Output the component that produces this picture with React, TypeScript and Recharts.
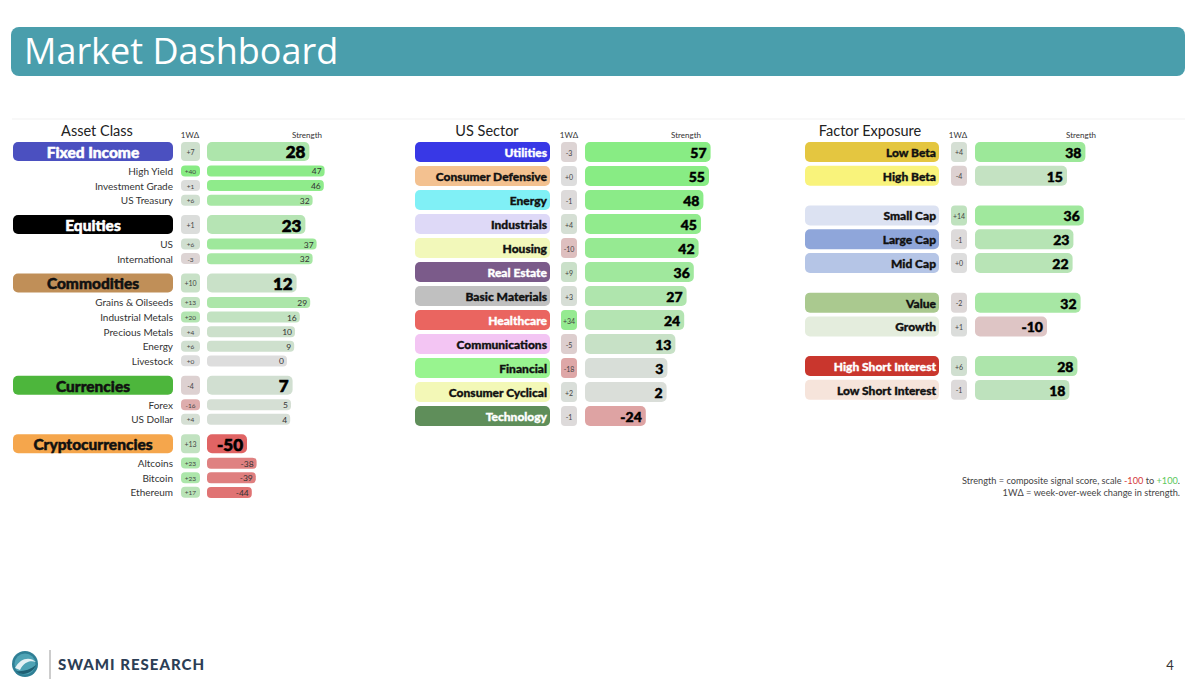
import React from 'react';
import { BarChart, Bar, XAxis, YAxis } from 'recharts';

// ---- Asset Class ----
const assetGroups = ['Fixed Income', 'Equities', 'Commodities', 'Currencies', 'Cryptocurrencies'];
const assetGroupStrength = [28, 23, 12, 7, -50];
const assetGroupDelta = [7, 1, 10, -4, 13];
const assetSubNames = [
  ['High Yield', 'Investment Grade', 'US Treasury'],
  ['US', 'International'],
  ['Grains & Oilseeds', 'Industrial Metals', 'Precious Metals', 'Energy', 'Livestock'],
  ['Forex', 'US Dollar'],
  ['Altcoins', 'Bitcoin', 'Ethereum'],
];
const assetSubStrength = [[47, 46, 32], [37, 32], [29, 16, 10, 9, 0], [5, 4], [-38, -39, -44]];
const assetSubDelta = [[40, 1, 6], [6, -3], [13, 20, 4, 6, 0], [-16, 4], [23, 23, 17]];

// ---- US Sector ----
const sectorNames = [
  'Utilities', 'Consumer Defensive', 'Energy', 'Industrials', 'Housing', 'Real Estate',
  'Basic Materials', 'Healthcare', 'Communications', 'Financial', 'Consumer Cyclical', 'Technology',
];
const sectorStrength = [57, 55, 48, 45, 42, 36, 27, 24, 13, 3, 2, -24];
const sectorDelta = [-3, 0, -1, 4, -10, 9, 3, 34, -5, -18, 2, -1];

// ---- Factor Exposure ----
const factorNames = [
  ['Low Beta', 'High Beta'],
  ['Small Cap', 'Large Cap', 'Mid Cap'],
  ['Value', 'Growth'],
  ['High Short Interest', 'Low Short Interest'],
];
const factorStrength = [[38, 15], [36, 23, 22], [32, -10], [28, 18]];
const factorDelta = [[4, -4], [14, -1, 0], [-2, 1], [6, -1]];

// label pill colours [background, text]
const pillColors: Record<string, [string, string]> = {
  'Fixed Income': ['#4B50C0', '#ffffff'],
  Equities: ['#000000', '#ffffff'],
  Commodities: ['#C08F58', '#111111'],
  Currencies: ['#4DB63C', '#111111'],
  Cryptocurrencies: ['#F5A64C', '#111111'],
  Utilities: ['#3838E6', '#ffffff'],
  'Consumer Defensive': ['#F3C190', '#111111'],
  Energy: ['#80F0F6', '#111111'],
  Industrials: ['#DED9F7', '#111111'],
  Housing: ['#F2F8BA', '#111111'],
  'Real Estate': ['#7B5B8A', '#ffffff'],
  'Basic Materials': ['#C0C0C0', '#111111'],
  Healthcare: ['#EA6560', '#ffffff'],
  Communications: ['#F3C5F3', '#111111'],
  Financial: ['#98F48F', '#111111'],
  'Consumer Cyclical': ['#F3F8B7', '#111111'],
  Technology: ['#5F8E5A', '#ffffff'],
  'Low Beta': ['#E4C640', '#111111'],
  'High Beta': ['#F9F37B', '#111111'],
  'Small Cap': ['#DCE2F2', '#111111'],
  'Large Cap': ['#8FA6DA', '#111111'],
  'Mid Cap': ['#B5C5E6', '#111111'],
  Value: ['#AAC98F', '#111111'],
  Growth: ['#E4EDDD', '#111111'],
  'High Short Interest': ['#C9362D', '#ffffff'],
  'Low Short Interest': ['#F6E4DB', '#111111'],
};

type Kind = 'group' | 'sub' | 'row' | 'spacer';
type Row = { key: string; label: string; kind: Kind; strength: number | null; delta: number | null };

const FONT = "Lato, 'Open Sans', sans-serif";
const PAD = 14; // room above/below the plot so the pills are not clipped

const hex = (c: string) => [1, 3, 5].map((i) => parseInt(c.slice(i, i + 2), 16));
const mix = (a: string, b: string, t: number) => {
  const A = hex(a);
  const B = hex(b);
  return 'rgb(' + A.map((v, i) => Math.round(v + (B[i] - v) * t)).join(',') + ')';
};
const tone = (v: number, sat: number) =>
  v >= 0 ? mix('#DDDDDD', '#88EC84', Math.min(v / sat, 1)) : mix('#DDDDDD', '#E06464', Math.min(-v / sat, 1));
const fmtDelta = (d: number) => (d >= 0 ? '+' + d : String(d));

// rows + spacer slots so that rows sit at uneven spacing on a category axis
let spacerId = 0;
function push(rows: Row[], row: Row, gap: number) {
  if (rows.length) {
    for (let i = 0; i < gap; i++) rows.push({ key: 's' + spacerId++, label: '', kind: 'spacer', strength: null, delta: null });
  }
  rows.push(row);
}

const assetRows: Row[] = [];
assetGroups.forEach((g, gi) => {
  push(assetRows, { key: g, label: g, kind: 'group', strength: assetGroupStrength[gi], delta: assetGroupDelta[gi] }, 4);
  assetSubNames[gi].forEach((n, i) => {
    push(assetRows, { key: n, label: n, kind: 'sub', strength: assetSubStrength[gi][i], delta: assetSubDelta[gi][i] }, i === 0 ? 3 : 2);
  });
});

const sectorRows: Row[] = [];
sectorNames.forEach((n, i) => push(sectorRows, { key: n, label: n, kind: 'row', strength: sectorStrength[i], delta: sectorDelta[i] }, 2));

const factorRows: Row[] = [];
factorNames.forEach((grp, gi) => {
  grp.forEach((n, i) => {
    push(factorRows, { key: n, label: n, kind: 'row', strength: factorStrength[gi][i], delta: factorDelta[gi][i] }, i === 0 ? 4 : 2);
  });
});

type PanelCfg = {
  rows: Row[];
  left: number;
  firstY: number;
  unit: number;
  axisW: number;
  labelW: number;
  deltaX: number;
  deltaW: number;
};

function Panel({ rows, left, firstY, unit, axisW, labelW, deltaX, deltaW }: PanelCfg) {
  const byKey: Record<string, Row> = {};
  rows.forEach((r) => (byKey[r.key] = r));

  const renderTick = (p: any) => {
    const row = byKey[p.payload?.value];
    if (!row || row.kind === 'spacer') return <g />;
    const cy = p.y;
    const d = row.delta as number;
    if (row.kind === 'sub') {
      return (
        <g>
          <text x={labelW} y={cy} textAnchor="end" dominantBaseline="central" fontSize={10} fill="#333" fontFamily={FONT}>
            {row.label}
          </text>
          <rect x={deltaX} y={cy - 5.5} width={deltaW} height={11} rx={4} fill={tone(d, 40)} />
          <text x={deltaX + deltaW / 2} y={cy + 0.5} textAnchor="middle" dominantBaseline="central" fontSize={6.5} fill="#444" fontFamily={FONT}>
            {fmtDelta(d)}
          </text>
        </g>
      );
    }
    const [bg, fg] = pillColors[row.label] || ['#ccc', '#111'];
    const h = row.kind === 'group' ? 19 : 20;
    return (
      <g>
        <rect x={0} y={cy - h / 2} width={labelW} height={h} rx={5} fill={bg} />
        {row.kind === 'group' ? (
          <text x={labelW / 2} y={cy + 0.5} textAnchor="middle" dominantBaseline="central" fontSize={15.5} fontWeight={900} fill={fg} stroke={fg} strokeWidth={0.5} fontFamily={FONT}>
            {row.label}
          </text>
        ) : (
          <text x={labelW - 3} y={cy + 0.5} textAnchor="end" dominantBaseline="central" fontSize={12} fontWeight={900} fill={fg} stroke={fg} strokeWidth={0.35} fontFamily={FONT}>
            {row.label}
          </text>
        )}
        <rect x={deltaX} y={cy - h / 2} width={deltaW} height={h} rx={4} fill={tone(d, 40)} />
        <text x={deltaX + deltaW / 2} y={cy + 0.5} textAnchor="middle" dominantBaseline="central" fontSize={7} fill="#444" fontFamily={FONT}>
          {fmtDelta(d)}
        </text>
      </g>
    );
  };

  const renderBar = (p: any) => {
    const row: Row | undefined = p.payload && p.payload.kind ? p.payload : rows[p.index];
    if (!row || row.strength == null || !isFinite(p.x) || !isFinite(p.width)) return <g />;
    const cy = p.y + p.height / 2;
    const h = row.kind === 'sub' ? 11 : row.kind === 'group' ? 19 : 20;
    const v = row.strength;
    const big = row.kind === 'group';
    const sub = row.kind === 'sub';
    return (
      <g>
        <rect x={p.x} y={cy - h / 2} width={p.width} height={h} rx={sub ? 4 : 5} fill={tone(v, 50)} />
        <text
          x={p.x + p.width - (sub ? 3 : 4)}
          y={cy + 0.5}
          textAnchor="end"
          dominantBaseline="central"
          fontSize={big ? 17 : row.kind === 'row' ? 14 : 8.5}
          fontWeight={sub ? 400 : 900}
          fill={sub ? '#333' : '#000'}
          stroke={sub ? 'none' : '#000'}
          strokeWidth={big ? 0.6 : 0.45}
          fontFamily={FONT}
        >
          {v}
        </text>
      </g>
    );
  };

  const height = rows.length * unit + PAD * 2;
  return (
    <div style={{ position: 'absolute', left, top: firstY - unit / 2 - PAD }}>
      <BarChart
        layout="vertical"
        width={axisW + 160}
        height={height}
        data={rows}
        margin={{ top: PAD, right: 0, bottom: PAD, left: 0 }}
        barCategoryGap={0}
      >
        <XAxis type="number" domain={[-100, 100]} hide allowDataOverflow />
        <YAxis type="category" dataKey="key" width={axisW} axisLine={false} tickLine={false} interval={0} tick={renderTick} />
        <Bar
          dataKey={(r: Row) => (r.strength == null ? null : [-100, r.strength])}
          shape={renderBar}
          isAnimationActive={false}
        />
      </BarChart>
    </div>
  );
}

function Logo() {
  return (
    <g>
      <circle cx={25} cy={664} r={13} fill="#2F7F95" />
      <circle cx={25} cy={664} r={10.5} fill="#4FA3B5" />
      <path d="M15 668 C 20 658, 30 656, 36 662 C 30 660, 24 662, 20 670 Z" fill="#ffffff" opacity={0.85} />
      <path d="M16 671 C 22 672, 30 670, 36 665 C 33 673, 22 677, 16 671 Z" fill="#1F5F73" />
      <line x1={50} y1={650} x2={50} y2={679} stroke="#9a9a9a" strokeWidth={1} />
      <text x={58} y={670} fontSize={15} fontWeight={900} fill="#2C3E55" fontFamily={FONT} letterSpacing={1}>
        SWAMI RESEARCH
      </text>
    </g>
  );
}

export default function App() {
  const small = { fontSize: 8, fill: '#333', fontFamily: FONT } as const;
  return (
    <div style={{ position: 'absolute', left: 0, top: 0, width: 1200, height: 688, background: '#fff', overflow: 'hidden' }}>
      <div
        style={{
          position: 'absolute',
          left: 11,
          top: 27,
          width: 1174,
          height: 49,
          background: '#4A9EAC',
          borderRadius: 8,
        }}
      />
      <svg width={1200} height={688} style={{ position: 'absolute', left: 0, top: 0 }}>
        <text x={24} y={64} fontSize={36} fill="#fff" fontFamily="'Open Sans', 'Noto Sans', sans-serif">
          Market Dashboard
        </text>
        <line x1={12} y1={119} x2={1185} y2={119} stroke="#f1f1f1" strokeWidth={1} />

        <text x={97} y={136} textAnchor="middle" fontSize={14.5} fill="#222" fontFamily={FONT}>Asset Class</text>
        <text x={190} y={138} textAnchor="middle" {...small}>1WΔ</text>
        <text x={307} y={138} textAnchor="middle" {...small}>Strength</text>

        <text x={487} y={136} textAnchor="middle" fontSize={14.5} fill="#222" fontFamily={FONT}>US Sector</text>
        <text x={569} y={138} textAnchor="middle" {...small}>1WΔ</text>
        <text x={686} y={138} textAnchor="middle" {...small}>Strength</text>

        <text x={870} y={136} textAnchor="middle" fontSize={14.5} fill="#222" fontFamily={FONT}>Factor Exposure</text>
        <text x={958} y={138} textAnchor="middle" {...small}>1WΔ</text>
        <text x={1081} y={138} textAnchor="middle" {...small}>Strength</text>

        <text x={1180} y={484} textAnchor="end" fontSize={9.2} fill="#444" fontFamily={FONT}>
          Strength = composite signal score, scale <tspan fill="#D43A3A">-100</tspan> to <tspan fill="#5CC85C">+100</tspan>.
        </text>
        <text x={1180} y={495.5} textAnchor="end" fontSize={9.2} fill="#444" fontFamily={FONT}>
          1WΔ = week-over-week change in strength.
        </text>

        <Logo />
        <text x={1170} y={670} textAnchor="middle" fontSize={13} fill="#333" fontFamily={FONT}>4</text>
      </svg>

      <Panel rows={assetRows} left={13} firstY={151} unit={4.87} axisW={194} labelW={160} deltaX={168} deltaW={19} />
      <Panel rows={sectorRows} left={415} firstY={152} unit={8} axisW={170} labelW={135} deltaX={146} deltaW={16} />
      <Panel rows={factorRows} left={805} firstY={152} unit={7.93} axisW={170} labelW={134} deltaX={146} deltaW={16} />
    </div>
  );
}
